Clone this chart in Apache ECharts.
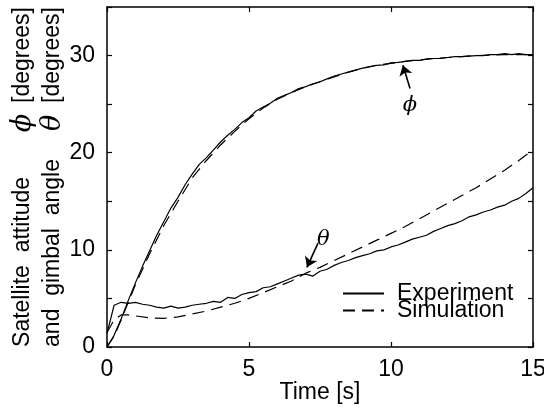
<!DOCTYPE html>
<html>
<head>
<meta charset="utf-8">
<script src="https://cdn.jsdelivr.net/npm/echarts@6/dist/echarts.min.js"></script>
<style>
  html, body { margin: 0; padding: 0; background: #fff; }
  #chart { width: 544px; height: 408px; }
</style>
</head>
<body>
<div id="chart"></div>
<script>
// time samples (s)
const tExp = [0, 0.25, 0.5, 0.75, 1, 1.25, 1.5, 1.75, 2, 2.25, 2.5, 2.75, 3, 3.25, 3.5, 3.75, 4, 4.25, 4.5, 4.75,
  5, 5.25, 5.5, 5.75, 6, 6.25, 6.5, 6.75, 7, 7.25, 7.5, 7.75, 8, 8.25, 8.5, 8.75, 9, 9.25, 9.5, 9.75,
  10, 10.25, 10.5, 10.75, 11, 11.25, 11.5, 11.75, 12, 12.25, 12.5, 12.75, 13, 13.25, 13.5, 13.75, 14, 14.25, 14.5, 14.75, 15];
// satellite attitude phi, experiment
const phiExp = [0, 1.2, 2.9, 4.8, 6.6, 8.3, 9.9, 11.5, 12.9, 14.3, 15.4, 16.7, 17.8, 18.8, 19.5, 20.3, 21.1, 21.8, 22.4, 23.1,
  23.6, 24.3, 24.7, 25.1, 25.6, 25.9, 26.2, 26.6, 26.8, 27.1, 27.3, 27.6, 27.9, 28.1, 28.3, 28.5, 28.7, 28.85, 29.0, 29.05,
  29.25, 29.3, 29.4, 29.5, 29.5, 29.65, 29.7, 29.7, 29.8, 29.9, 29.9, 29.95, 30.0, 30.0, 30.1, 30.1, 30.2, 30.1, 30.2, 30.1, 30.1];
// gimbal angle theta, experiment
const thetaExp = [1.4, 4.3, 4.6, 4.5, 4.6, 4.4, 4.3, 4.1, 4.0, 4.2, 4.0, 4.1, 4.3, 4.4, 4.5, 4.7, 4.6, 5.1, 5.0, 5.4,
  5.6, 5.7, 6.1, 6.2, 6.5, 6.8, 7.1, 7.4, 7.5, 7.3, 7.8, 8.0, 8.4, 8.7, 8.9, 9.2, 9.4, 9.6, 9.9, 10.0,
  10.3, 10.5, 10.8, 11.1, 11.3, 11.5, 11.9, 12.2, 12.5, 12.7, 13.0, 13.4, 13.6, 13.9, 14.1, 14.4, 14.6, 15.0, 15.3, 15.8, 16.4];

const tSim = [0, 0.25, 0.5, 0.75, 1, 1.5, 2, 2.5, 3, 3.5, 4, 4.5, 5, 5.5, 6, 6.5, 7, 7.5, 8, 8.5,
  9, 9.5, 10, 10.5, 11, 11.5, 12, 12.5, 13, 13.5, 14, 14.5, 15];
const phiSim = [0, 1.1, 2.8, 4.6, 6.4, 9.6, 12.5, 15.0, 17.4, 19.2, 20.8, 22.2, 23.5, 24.6, 25.5, 26.2, 26.8, 27.3, 27.8, 28.3,
  28.7, 29.0, 29.2, 29.4, 29.55, 29.7, 29.8, 29.9, 30.0, 30.05, 30.1, 30.1, 30.1];
const thetaSim = [1.5, 2.8, 3.3, 3.3, 3.2, 3.0, 2.95, 3.1, 3.4, 3.7, 4.1, 4.5, 5.0, 5.6, 6.2, 6.8, 7.6, 8.2, 8.9, 9.6,
  10.3, 11.0, 11.7, 12.4, 13.2, 14.0, 14.8, 15.6, 16.4, 17.3, 18.2, 19.2, 20.3];

const xTicks = { min: 0, max: 15, interval: 5 };
const yTicks = { min: 0, max: 35, interval: 5 };

const pairs = (t, v) => t.map((x, i) => [x, v[i]]);

const chart = echarts.init(document.getElementById('chart'));
const font = 'Liberation Sans, Arial, sans-serif';
const fs = 23;

const axisCommon = {
  type: 'value',
  axisLine: { show: true, onZero: false, lineStyle: { color: '#000', width: 1.5 } },
  axisTick: { show: true, inside: true, length: 5, lineStyle: { color: '#000', width: 1.2 } },
  splitLine: { show: false }
};

const lineCommon = { type: 'line', symbol: 'none', silent: true, z: 3 };

chart.setOption({
  animation: false,
  backgroundColor: '#fff',
  grid: { left: 107, right: 11, top: 7, bottom: 61, outerBoundsMode: 'none', containLabel: false },
  legend: {
    orient: 'vertical',
    left: 337,
    top: 277,
    itemWidth: 41,
    itemHeight: 17,
    itemGap: -6,
    data: ['Experiment', 'Simulation'],
    itemStyle: { opacity: 0 },
    textStyle: { fontFamily: font, fontSize: fs, color: '#000', padding: [0, 0, 0, 8] }
  },
  xAxis: [
    Object.assign({}, axisCommon, xTicks, {
      position: 'bottom',
      name: 'Time [s]',
      nameLocation: 'middle',
      nameGap: 34,
      nameMoveOverlap: false,
      nameTextStyle: { fontFamily: font, fontSize: fs, color: '#000' },
      axisLabel: { fontFamily: font, fontSize: fs, color: '#000', margin: 11 }
    }),
    Object.assign({}, axisCommon, xTicks, { position: 'top', axisLabel: { show: false } })
  ],
  yAxis: [
    Object.assign({}, axisCommon, yTicks, {
      position: 'left',
      name: '{a|Satellite  attitude}{s|ϕ}{b|[degrees]}\n{a|and  gimbal  angle}{s|θ}{b|[degrees]}',
      nameLocation: 'middle',
      nameRotate: 90,
      nameGap: 39,
      nameMoveOverlap: false,
      nameTextStyle: {
        fontFamily: font, fontSize: fs, color: '#000', lineHeight: 30,
        rich: {
          a: { fontFamily: font, fontSize: fs, color: '#000', lineHeight: 30, width: 204, align: 'left' },
          s: { fontFamily: 'DejaVu Serif', fontStyle: 'italic', fontSize: 27, color: '#000', lineHeight: 30, width: 40, align: 'center' },
          b: { fontFamily: font, fontSize: fs, color: '#000', lineHeight: 30, align: 'left' }
        }
      },
      axisLabel: {
        fontFamily: font, fontSize: fs, color: '#000', margin: 12,
        formatter: v => (v % 10 === 0 ? String(v) : '')
      }
    }),
    Object.assign({}, axisCommon, yTicks, { position: 'right', axisLabel: { show: false } })
  ],
  series: [
    Object.assign({}, lineCommon, {
      name: 'Experiment',
      data: pairs(tExp, phiExp),
      lineStyle: { color: '#000', width: 1.2 },
      itemStyle: { color: '#000' },
      markLine: {
        silent: true, symbol: ['none', 'arrow'], symbolSize: 10,
        label: { show: false },
        lineStyle: { color: '#000', width: 1.6, type: 'solid' },
        data: [
          [{ coord: [10.67, 26.6] }, { coord: [10.42, 29.0] }],
          [{ coord: [7.43, 10.7] }, { coord: [7.04, 8.2] }]
        ]
      },
      markPoint: {
        silent: true, symbolSize: 0,
        label: { show: true, position: 'inside', color: '#000', fontFamily: 'DejaVu Serif', fontStyle: 'italic', fontSize: 21 },
        data: [
          { coord: [10.67, 24.9], value: 'ϕ' },
          { coord: [7.62, 11.1], value: 'θ' }
        ]
      }
    }),
    Object.assign({}, lineCommon, {
      name: 'Experiment',
      data: pairs(tExp, thetaExp),
      lineStyle: { color: '#000', width: 1.2 },
      itemStyle: { color: '#000' }
    }),
    Object.assign({}, lineCommon, {
      name: 'Simulation',
      data: pairs(tSim, phiSim),
      lineStyle: { color: '#000', width: 1.2, type: [12, 7] },
      itemStyle: { color: '#000' }
    }),
    Object.assign({}, lineCommon, {
      name: 'Simulation',
      data: pairs(tSim, thetaSim),
      lineStyle: { color: '#000', width: 1.2, type: [12, 7] },
      itemStyle: { color: '#000' }
    })
  ]
});
</script>
</body>
</html>
